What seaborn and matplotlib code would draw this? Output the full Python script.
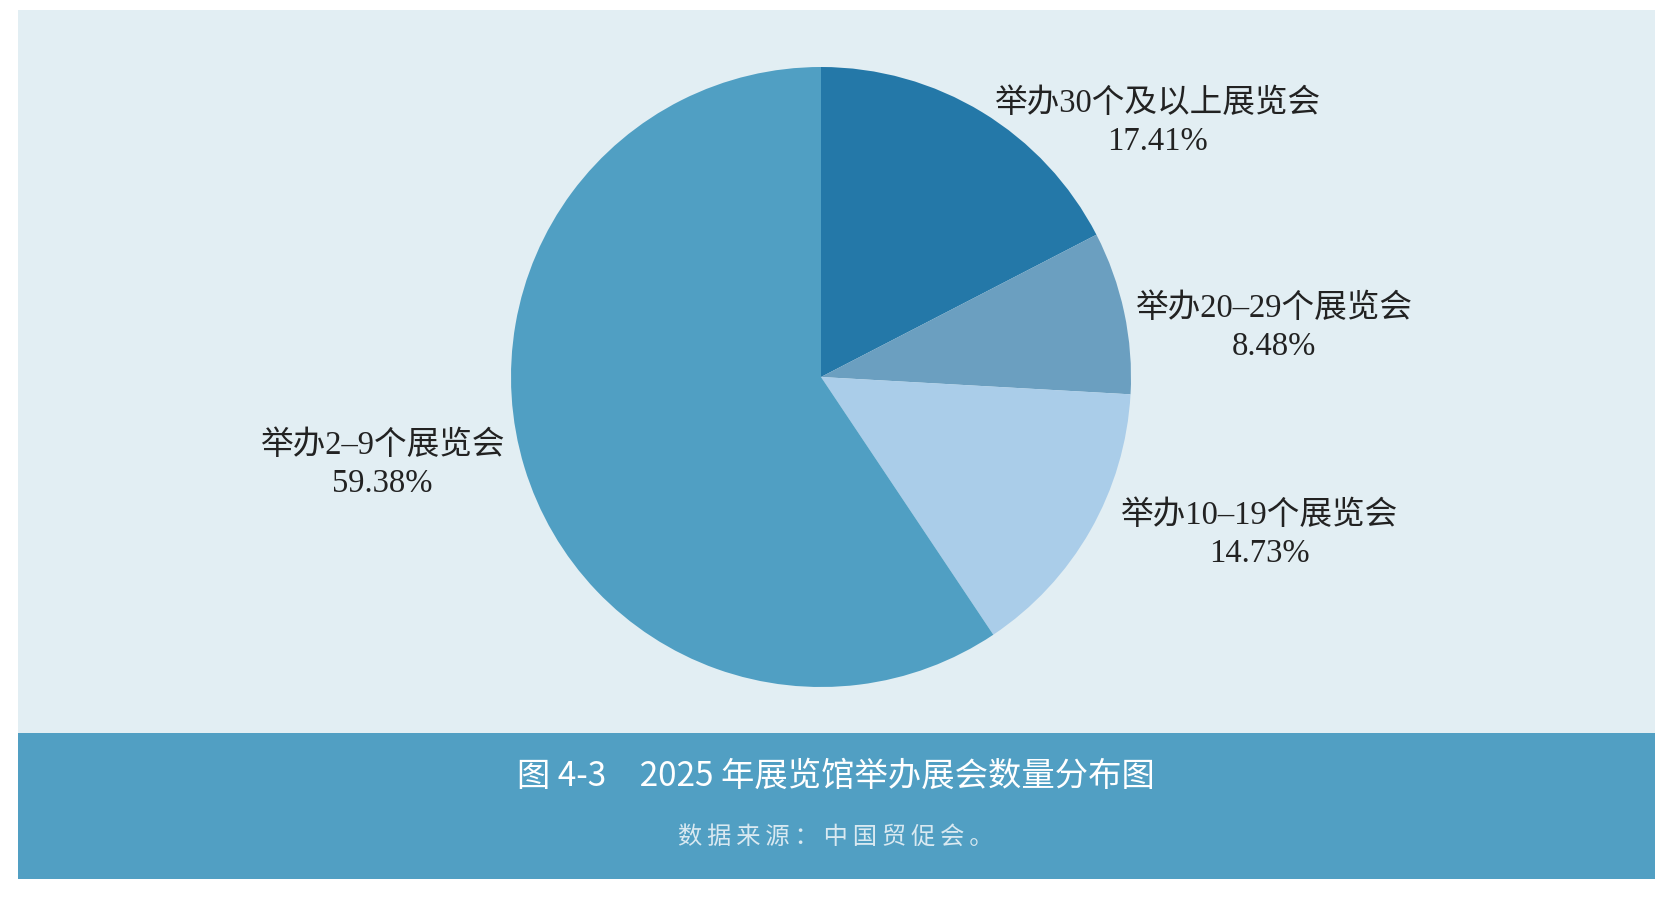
import matplotlib
matplotlib.use("Agg")
import matplotlib.pyplot as plt
import seaborn as sns
from matplotlib.patches import Rectangle

# ---- data ----
categories = ["举办30个及以上展览会", "举办20–29个展览会", "举办10–19个展览会", "举办2–9个展览会"]
shares = [17.41, 8.48, 14.73, 59.38]
slice_colors = ["#2478a8", "#6b9fc0", "#aacde9", "#509fc3"]
title_text = "图 4-3　2025 年展览馆举办展会数量分布图"
source_text = "数据来源：中国贸促会。"

# label positions (pie data coords)
label_pos = [(1.084, 0.821), (1.461, 0.158), (1.413, -0.509), (-1.416, -0.284)]

sns.set_theme(style="white")
plt.rcParams['font.family'] = ['Liberation Serif', 'Noto Sans CJK SC', 'DejaVu Sans']

W, H = 1676, 897
fig = plt.figure(figsize=(W / 100, H / 100), dpi=100, facecolor="white")

def fx(px):
    return px / W

def fy(py):
    return 1 - py / H

# background panels
fig.patches.append(Rectangle((fx(18), fy(733)), fx(1655) - fx(18), fy(10) - fy(733),
                             transform=fig.transFigure, facecolor="#e2eef3", edgecolor="none", zorder=-10))
fig.patches.append(Rectangle((fx(18), fy(879)), fx(1655) - fx(18), fy(733) - fy(879),
                             transform=fig.transFigure, facecolor="#519fc3", edgecolor="none", zorder=-10))

cx, cy, r = 821, 377, 310
ax = fig.add_axes([fx(cx - r), fy(cy + r), 2 * r / W, 2 * r / H])
ax.set_zorder(5)
ax.set_facecolor("none")
palette = sns.color_palette(slice_colors)
ax.pie(shares, colors=palette, startangle=90, counterclock=False, radius=1,
       wedgeprops=dict(linewidth=0, edgecolor="none"))
ax.set_xlim(-1, 1)
ax.set_ylim(-1, 1)
ax.set_aspect("equal")
ax.axis("off")

for cat, v, (lx, ly) in zip(categories, shares, label_pos):
    ax.text(lx, ly, f"{cat}\n{v:.2f}%", ha="center", va="center", fontsize=23.5,
            color="#222222", linespacing=1.33,
            family=['Liberation Serif', 'Noto Sans CJK SC', 'DejaVu Sans'])

fig.text(fx(836), fy(776), title_text, ha="center", va="center", fontsize=24,
         color="white", family=['Noto Sans CJK SC', 'DejaVu Sans'], zorder=6)
fig.text(fx(836), fy(837), "\u2009".join(source_text), ha="center", va="center", fontsize=17.5,
         color="#d9e9f1", family=['Noto Sans CJK SC', 'DejaVu Sans'], zorder=6)

fig.savefig("out.png", dpi=100, facecolor="white")
